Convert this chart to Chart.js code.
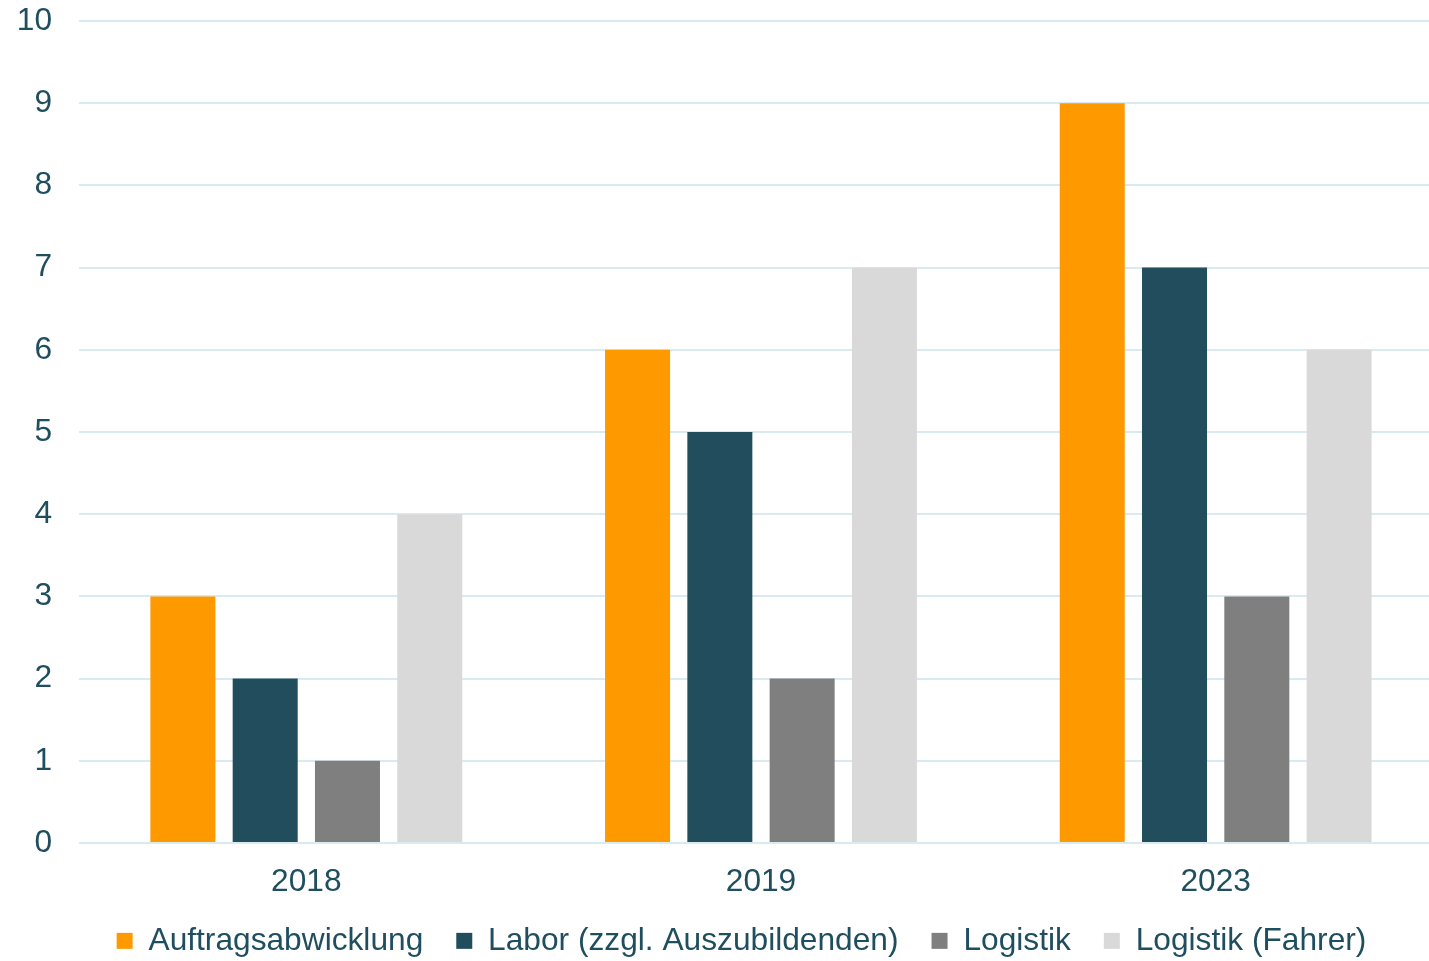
<!DOCTYPE html>
<html>
<head>
<meta charset="utf-8">
<script src="https://cdn.jsdelivr.net/npm/chart.js@4"></script>
<style>
    body { margin: 0; overflow: hidden; background: #fff; }
    #wrap { position: absolute; left: 0; top: 0; width: 1443px; height: 961px; }
</style>
</head>
<body>
<div id="wrap"><canvas id="chart" width="1443" height="961"></canvas></div>
<script>
// Chart data
const years = ['2018', '2019', '2023'];
const auftrag = [3, 6, 9];
const labor = [2, 5, 7];
const logistik = [1, 2, 3];
const fahrer = [4, 7, 6];

const textColor = '#1f4e5f';
const gridColor = '#d9eaf1';

Chart.defaults.font.family = '"Liberation Sans", Arial, sans-serif';
Chart.defaults.font.size = 31.7;
Chart.defaults.color = textColor;

// nudge the legend row a little, like the original
const legendShift = {
    id: 'legendShift',
    afterLayout(chart) {
        chart.legend.left += 20;
        chart.legend.right += 20;
        chart.legend.top -= 3;
        chart.legend.bottom -= 3;
    }
};

window.addEventListener('load', () => {
    const ctx = document.getElementById('chart').getContext('2d');
    new Chart(ctx, {
        type: 'bar',
        data: {
            labels: years,
            datasets: [
                { label: 'Auftragsabwicklung', data: auftrag, backgroundColor: '#ff9900' },
                { label: 'Labor (zzgl. Auszubildenden)', data: labor, backgroundColor: '#214d5c' },
                { label: 'Logistik', data: logistik, backgroundColor: '#7f7f7f' },
                { label: 'Logistik (Fahrer)', data: fahrer, backgroundColor: '#d9d9d9' }
            ]
        },
        options: {
            responsive: false,
            animation: false,
            categoryPercentage: 0.724,
            barPercentage: 0.79,
            layout: { padding: 0 },
            scales: {
                x: {
                    grid: { display: false, drawTicks: false },
                    border: { display: false },
                    ticks: { padding: 20 },
                    afterFit: (scale) => { scale.height = 52; }
                },
                y: {
                    min: 0,
                    max: 10,
                    ticks: { stepSize: 1, padding: 27 },
                    border: { display: false },
                    grid: { color: gridColor, lineWidth: 2, drawTicks: false },
                    afterFit: (scale) => {
                        scale.width = 79;
                        scale.paddingTop = 21;
                    }
                }
            },
            plugins: {
                legend: {
                    position: 'bottom',
                    maxHeight: 66,
                    labels: {
                        boxWidth: 16,
                        boxHeight: 16,
                        padding: 33,
                        color: textColor
                    }
                },
                tooltip: { enabled: false }
            }
        },
        plugins: [legendShift]
    });
});
</script>
</body>
</html>
